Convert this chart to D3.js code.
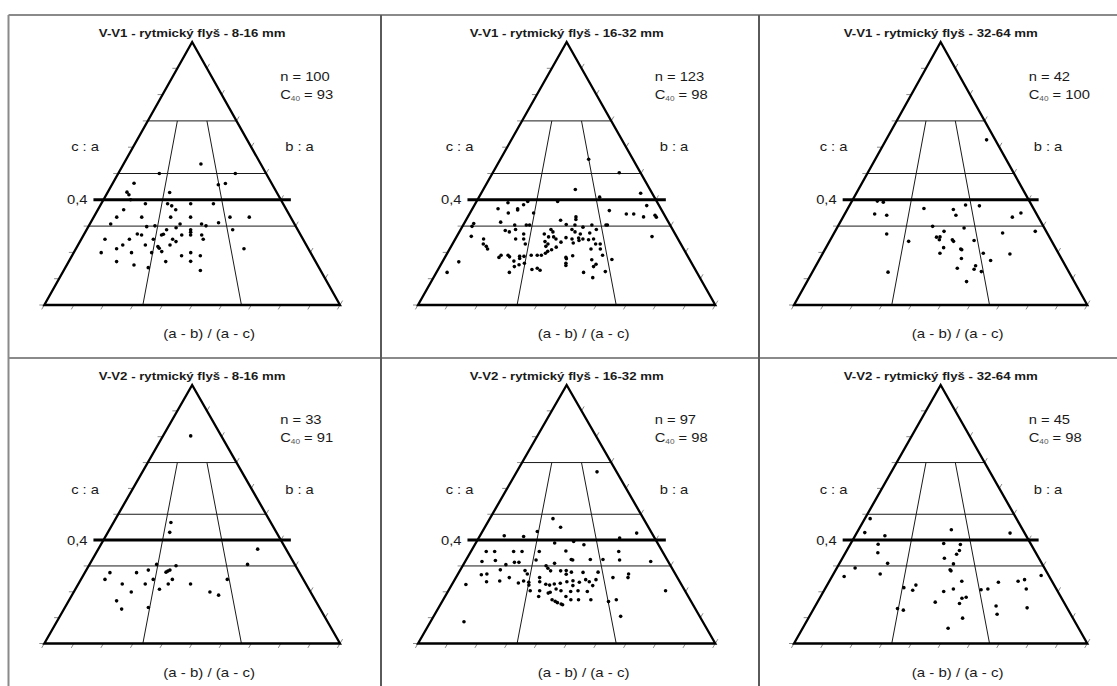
<!DOCTYPE html>
<html>
<head>
<meta charset="utf-8">
<script src="https://cdn.jsdelivr.net/npm/d3@7"></script>
<style>
  body { margin: 0; background: #fff; }
  svg { display: block; }
</style>
</head>
<body>
<svg id="chart"></svg>
<script>
const width = 1117, height = 686;

// panel titles and stats
const titles = [
  "V-V1 - rytmický flyš - 8-16 mm",
  "V-V1 - rytmický flyš - 16-32 mm",
  "V-V1 - rytmický flyš - 32-64 mm",
  "V-V2 - rytmický flyš - 8-16 mm",
  "V-V2 - rytmický flyš - 16-32 mm",
  "V-V2 - rytmický flyš - 32-64 mm"
];
const nValues = [100, 123, 42, 33, 97, 45];
const c40Values = [93, 98, 100, 91, 98, 98];

// Sneed & Folk grid: c/a levels, (a-b)/(a-c) dividers, tick steps
const thinLevels = [0.3, 0.5, 0.7];
const boldLevel = 0.4;
const ratioLines = [1 / 3, 2 / 3];
const ratioTop = 0.7;
const tickSteps = [0, 0.1, 0.2, 0.3, 0.4, 0.5, 0.6, 0.7, 0.8, 0.9, 1];

// points: [(a-b)/(a-c), c/a]
const v1_8_16 = [
  [0.564,0.536],[0.278,0.500],[0.792,0.500],[0.134,0.463],[0.663,0.457],[0.709,0.462],[0.114,0.429],[0.132,0.419],[0.367,0.428],[0.153,0.400],
  [0.243,0.385],[0.365,0.385],[0.492,0.385],[0.617,0.385],[0.389,0.377],[0.413,0.362],[0.137,0.362],
  [0.117,0.334],[0.244,0.334],[0.391,0.334],[0.492,0.334],[0.692,0.334],[0.790,0.334],
  [0.102,0.308],[0.281,0.298],[0.320,0.301],[0.441,0.308],[0.546,0.308],[0.567,0.301],[0.630,0.313],
  [0.379,0.286],[0.423,0.294],[0.493,0.286],[0.493,0.277],[0.692,0.286],
  [0.107,0.250],[0.217,0.250],[0.325,0.250],[0.412,0.250],[0.550,0.250],[0.246,0.270],[0.267,0.266],[0.359,0.266],[0.367,0.269],[0.452,0.266],[0.493,0.266],[0.544,0.266],
  [0.196,0.228],[0.295,0.228],[0.403,0.228],[0.351,0.222],[0.358,0.216],[0.428,0.241],[0.175,0.214],
  [0.116,0.199],[0.244,0.199],[0.329,0.199],[0.494,0.199],[0.371,0.203],[0.723,0.214],
  [0.194,0.165],[0.268,0.152],[0.393,0.165],[0.494,0.166],[0.456,0.187],[0.534,0.187],
  [0.327,0.142],[0.532,0.131]
];
const v1_16_32 = [
  [0.666,0.554],[0.856,0.503],[0.552,0.439],[0.933,0.425],[0.688,0.410],
  [0.284,0.394],[0.450,0.394],[0.177,0.389],[0.266,0.381],[0.933,0.378],
  [0.136,0.366],[0.240,0.366],[0.242,0.361],[0.724,0.359],
  [0.198,0.350],[0.329,0.350],[0.807,0.346],[0.845,0.346],[0.951,0.341],
  [0.547,0.335],[0.889,0.335],[0.953,0.334],[0.546,0.325],[0.470,0.322],
  [0.176,0.315],[0.047,0.310],[0.498,0.306],
  [0.249,0.304],[0.305,0.304],[0.321,0.304],[0.540,0.304],[0.622,0.304],[0.690,0.304],[0.697,0.304],
  [0.046,0.299],[0.578,0.296],
  [0.259,0.287],[0.426,0.287],[0.525,0.287],[0.640,0.287],[0.212,0.283],
  [0.233,0.278],[0.436,0.278],[0.539,0.278],[0.607,0.274],
  [0.302,0.270],[0.397,0.270],[0.563,0.270],[0.066,0.261],[0.888,0.260],
  [0.418,0.259],[0.441,0.259],[0.497,0.256],[0.554,0.255],
  [0.127,0.251],[0.271,0.251],[0.307,0.251],[0.452,0.251],[0.524,0.251],[0.573,0.251],[0.621,0.251],
  [0.598,0.248],[0.555,0.245],[0.404,0.241],[0.475,0.239],[0.529,0.236],
  [0.135,0.232],[0.319,0.232],[0.418,0.232],[0.627,0.232],[0.647,0.232],
  [0.152,0.223],[0.410,0.223],[0.455,0.220],
  [0.162,0.213],[0.604,0.213],[0.644,0.213],[0.436,0.210],[0.420,0.204],[0.411,0.197],
  [0.228,0.189],[0.257,0.189],[0.353,0.189],[0.378,0.189],[0.395,0.189],[0.649,0.189],[0.525,0.187],
  [0.306,0.185],[0.324,0.185],[0.265,0.183],[0.222,0.181],[0.497,0.181],[0.308,0.177],[0.499,0.176],[0.684,0.173],[0.602,0.172],
  [0.287,0.167],[0.066,0.164],[0.331,0.159],[0.497,0.159],[0.617,0.155],[0.311,0.153],[0.497,0.150],
  [0.294,0.146],[0.606,0.146],[0.385,0.140],[0.365,0.135],[0.397,0.132],[0.649,0.127],
  [0.041,0.124],[0.280,0.124],[0.565,0.124],[0.598,0.104]
];
const v1_32_64 = [
  [0.921,0.628],[0.143,0.395],[0.179,0.391],[0.637,0.380],[0.712,0.377],[0.410,0.367],[0.568,0.363],
  [0.921,0.350],[0.156,0.346],[0.221,0.341],[0.579,0.341],[0.867,0.334],
  [0.461,0.299],[0.613,0.293],[0.516,0.280],[0.948,0.280],[0.791,0.274],[0.248,0.270],
  [0.497,0.259],[0.481,0.258],[0.494,0.248],[0.553,0.248],[0.651,0.245],[0.356,0.242],[0.558,0.242],
  [0.513,0.218],[0.587,0.213],[0.591,0.210],[0.497,0.197],[0.681,0.197],[0.793,0.194],
  [0.586,0.177],[0.705,0.169],[0.640,0.149],[0.566,0.140],[0.632,0.136],[0.659,0.127],[0.295,0.125],[0.597,0.089]
];
const v2_8_16 = [
  [0.475,0.803],[0.365,0.468],[0.367,0.430],[0.849,0.365],[0.770,0.306],[0.327,0.306],[0.422,0.301],
  [0.293,0.284],[0.395,0.284],[0.386,0.280],[0.378,0.276],[0.117,0.274],[0.241,0.274],
  [0.108,0.248],[0.325,0.248],[0.411,0.248],[0.658,0.248],
  [0.193,0.230],[0.294,0.230],[0.395,0.230],[0.493,0.230],
  [0.360,0.210],[0.243,0.199],[0.575,0.199],[0.610,0.187],[0.194,0.165],[0.328,0.139],[0.225,0.133]
];
const v2_16_32 = [
  [0.804,0.664],[0.411,0.483],[0.463,0.450],[0.326,0.433],[0.911,0.427],[0.140,0.417],[0.253,0.414],[0.801,0.408],
  [0.539,0.395],[0.434,0.389],[0.594,0.382],[0.496,0.358],
  [0.080,0.356],[0.124,0.356],[0.223,0.356],[0.267,0.356],[0.357,0.356],[0.772,0.356],
  [0.523,0.325],[0.618,0.325],[0.681,0.325],[0.530,0.323],[0.763,0.323],[0.348,0.323],[0.147,0.321],
  [0.083,0.317],[0.914,0.317],[0.244,0.314],[0.266,0.314],[0.441,0.310],[0.206,0.305],[0.401,0.301],[0.411,0.291],
  [0.188,0.285],[0.305,0.282],[0.498,0.282],[0.425,0.281],[0.472,0.281],[0.522,0.276],[0.646,0.276],[0.576,0.275],
  [0.133,0.269],[0.319,0.269],[0.785,0.269],[0.498,0.268],[0.109,0.266],
  [0.241,0.255],[0.378,0.255],[0.709,0.255],[0.777,0.255],[0.585,0.247],[0.631,0.247],[0.528,0.243],
  [0.203,0.242],[0.309,0.242],[0.146,0.239],[0.381,0.239],[0.501,0.239],[0.600,0.239],[0.333,0.237],[0.556,0.237],
  [0.288,0.234],[0.472,0.233],[0.446,0.230],[0.409,0.229],[0.061,0.228],[0.426,0.226],[0.336,0.226],[0.527,0.224],[0.613,0.224],
  [0.455,0.211],[0.346,0.204],[0.386,0.204],[0.476,0.204],[0.548,0.204],[0.918,0.204],[0.517,0.201],[0.587,0.201],[0.431,0.198],[0.423,0.195],
  [0.385,0.182],[0.497,0.182],[0.441,0.169],[0.517,0.169],[0.548,0.169],[0.598,0.169],[0.701,0.169],
  [0.454,0.163],[0.668,0.162],[0.463,0.158],[0.478,0.153],[0.484,0.150],[0.703,0.105],[0.123,0.084]
];
const v2_32_64 = [
  [0.035,0.483],[0.565,0.440],[0.047,0.429],[0.913,0.427],[0.174,0.417],[0.517,0.387],[0.154,0.384],[0.609,0.383],
  [0.600,0.360],[0.170,0.351],[0.583,0.345],[0.519,0.330],[0.238,0.310],[0.563,0.308],[0.088,0.292],[0.545,0.285],[0.549,0.281],
  [0.218,0.269],[0.965,0.263],[0.056,0.259],[0.880,0.247],[0.595,0.241],[0.848,0.241],[0.758,0.237],[0.391,0.226],[0.340,0.216],
  [0.555,0.211],[0.704,0.211],[0.870,0.211],[0.674,0.208],[0.380,0.206],[0.513,0.201],[0.606,0.179],[0.588,0.175],[0.478,0.160],
  [0.576,0.155],[0.721,0.145],[0.842,0.138],[0.330,0.135],[0.354,0.129],[0.717,0.113],[0.583,0.098],[0.527,0.059]
];
const panelData = [v1_8_16, v1_16_32, v1_32_64, v2_8_16, v2_16_32, v2_32_64];

// layout
const colLeft = [44.3, 418, 794];
const colRight = [340, 715.3, 1087.3];
const rowTop = [15, 358];
const rowApex = [42, 385];
const rowBase = [305, 643.5];

const svg = d3.select("#chart").attr("width", width).attr("height", height);

// outer table lines
const frame = svg.append("g").attr("fill", "none").attr("stroke-width", 2);
frame.append("line").attr("x1", 8.5).attr("x2", width).attr("y1", 15).attr("y2", 15).attr("stroke", "#8a8a8a");
frame.append("line").attr("x1", 8.5).attr("x2", width).attr("y1", 358).attr("y2", 358).attr("stroke", "#8a8a8a");
frame.append("line").attr("x1", 8.5).attr("x2", 8.5).attr("y1", 15).attr("y2", height).attr("stroke", "#8a8a8a");
[381, 759].forEach(xv => {
  frame.append("line").attr("x1", xv).attr("x2", xv).attr("y1", 15).attr("y2", height).attr("stroke", "#5a5a5a");
});

const font = "'Liberation Sans', Arial, sans-serif";

function stretchText(g, x, y, str, size, anchor, sx) {
  return g.append("text")
    .attr("transform", `translate(${x},${y}) scale(${sx},1)`)
    .attr("text-anchor", anchor)
    .attr("font-family", font)
    .attr("font-size", size)
    .attr("fill", "#1a1a1a")
    .text(str);
}

panelData.forEach((pts, i) => {
  const row = Math.floor(i / 3), col = i % 3;
  const x = d3.scaleLinear().domain([0, 1]).range([colLeft[col], colRight[col]]);
  const y = d3.scaleLinear().domain([0, 1]).range([rowBase[row], rowApex[row]]);
  // ternary position: c/a sets the height, ratio runs across the section
  const tx = (r, h) => x(h / 2 + r * (1 - h));
  const ax = x(0.5);
  const g = svg.append("g");

  // ticks
  const tk = g.append("g").attr("stroke", "#8a8a8a").attr("stroke-width", 1);
  tickSteps.filter(t => t < 1).forEach(t => {
    tk.append("line").attr("x1", tx(0, t)).attr("y1", y(t)).attr("x2", tx(0, t) - 5).attr("y2", y(t));
    tk.append("line").attr("x1", tx(1, t)).attr("y1", y(t)).attr("x2", tx(1, t) + 2.6).attr("y2", y(t) - 4.4);
  });
  tickSteps.forEach(t => {
    tk.append("line").attr("x1", x(t)).attr("y1", y(0)).attr("x2", x(t) - 2.6).attr("y2", y(0) + 4.4);
  });

  // inner grid
  const grid = g.append("g").attr("stroke", "#1a1a1a").attr("stroke-width", 1).attr("fill", "none");
  thinLevels.forEach(h => {
    grid.append("line").attr("x1", tx(0, h)).attr("x2", tx(1, h)).attr("y1", y(h)).attr("y2", y(h));
  });
  ratioLines.forEach(r => {
    grid.append("line").attr("x1", tx(r, 0)).attr("y1", y(0)).attr("x2", tx(r, ratioTop)).attr("y2", y(ratioTop));
  });

  // triangle
  g.append("path")
    .attr("d", d3.line()([[x(0), y(0)], [ax, y(1)], [x(1), y(0)]]) + "Z")
    .attr("fill", "none").attr("stroke", "#000").attr("stroke-width", 2.3)
    .attr("stroke-linejoin", "miter");

  // bold 0,4 line
  g.append("line")
    .attr("x1", tx(0, boldLevel) - 10).attr("x2", tx(1, boldLevel) + 10)
    .attr("y1", y(boldLevel)).attr("y2", y(boldLevel))
    .attr("stroke", "#000").attr("stroke-width", 3);

  // points
  g.append("g").selectAll("circle")
    .data(pts)
    .join("circle")
    .attr("cx", d => tx(d[0], d[1]))
    .attr("cy", d => y(d[1]))
    .attr("r", 1.8)
    .attr("fill", "#000");

  // texts
  const top = rowTop[row];
  stretchText(g, ax, top + 22, titles[i], 10.5, "middle", 1.26).attr("font-weight", "bold");
  stretchText(g, ax + 88, top + 66, "n = " + nValues[i], 12.5, "start", 1.18);
  const c = stretchText(g, ax + 88, top + 83.5, "C", 12.5, "start", 1.18);
  c.append("tspan").attr("font-size", 7).attr("dy", 2.5).attr("fill", "#555").text("40");
  c.append("tspan").attr("dy", -2.5).text(" = " + c40Values[i]);
  stretchText(g, ax - 121, top + 135.5, "c : a", 12.5, "start", 1.18);
  stretchText(g, ax + 93, top + 135.5, "b : a", 12.5, "start", 1.18);
  stretchText(g, tx(0, boldLevel) - 16, y(boldLevel) + 4.5, "0,4", 12.5, "end", 1.18);
  stretchText(g, ax + 17, y(0) + 33, "(a - b) / (a - c)", 12.5, "middle", 1.2);
});
</script>
</body>
</html>
